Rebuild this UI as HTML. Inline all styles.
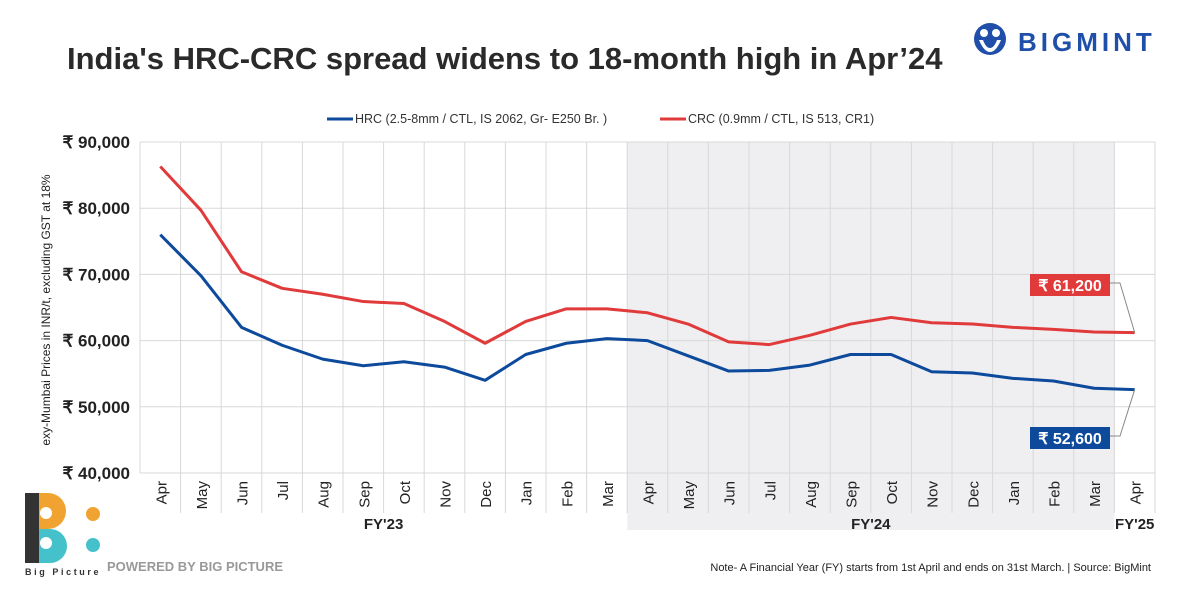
<!DOCTYPE html>
<html><head><meta charset="utf-8"><style>
body{margin:0;width:1200px;height:600px;background:#fff;overflow:hidden;font-family:"Liberation Sans",sans-serif}
svg{display:block}
</style></head><body>
<svg id="c" width="1200" height="600" xmlns="http://www.w3.org/2000/svg">
<text x="67" y="69" font-size="31" font-weight="bold" fill="#2a2a2a">India's HRC-CRC spread widens to 18-month high in Apr’24</text>
<g>
<circle cx="990" cy="39" r="16" fill="#1f4fa8"/>
<circle cx="984" cy="33" r="4" fill="#fff"/><circle cx="996" cy="33" r="4" fill="#fff"/>
<path d="M979 40 Q984 52 990 52 Q996 52 1001 40 L997 40 Q994 48 990 48 Q986 48 983 40Z" fill="#fff"/>
<text x="1018" y="51" font-size="26" font-weight="bold" fill="#1f4fa8" letter-spacing="4">BIGMINT</text>
</g>
<g>
<rect x="25" y="493" width="14" height="70" fill="#333"/>
<path d="M39 493 L48 493 A18 18 0 0 1 48 529 L39 529Z" fill="#f0a330"/>
<path d="M39 529 L50 529 A17 17 0 0 1 50 563 L39 563Z" fill="#45c1cc"/>
<circle cx="46" cy="513" r="6" fill="#fff"/><circle cx="46" cy="543" r="6" fill="#fff"/>
<circle cx="93" cy="514" r="7" fill="#f0a330"/><circle cx="93" cy="545" r="7" fill="#45c1cc"/>
<text x="25" y="575" font-size="9" font-weight="bold" fill="#333" letter-spacing="2.6">Big Picture</text>
</g>
<text x="107" y="571" font-size="13" font-weight="bold" fill="#999">POWERED BY BIG PICTURE</text>
<text x="1151" y="571" font-size="11" fill="#222" text-anchor="end">Note- A Financial Year (FY) starts from 1st April and ends on 31st March. | Source: BigMint</text>
<text transform="translate(50,310) rotate(-90)" font-size="12" fill="#222" text-anchor="middle">exy-Mumbai Prices in INR/t, excluding GST at 18%</text>
<g>
<line x1="327" y1="119" x2="353" y2="119" stroke="#0d4a9c" stroke-width="3"/>
<text x="355" y="123" font-size="12.5" fill="#333">HRC (2.5-8mm / CTL, IS 2062, Gr- E250 Br. )</text>
<line x1="660" y1="119" x2="686" y2="119" stroke="#e03a3a" stroke-width="3"/>
<text x="688" y="123" font-size="12.5" fill="#333">CRC (0.9mm / CTL, IS 513, CR1)</text>
</g>
<g id="g"></g>
</svg>
<script>
const months=["Apr","May","Jun","Jul","Aug","Sep","Oct","Nov","Dec","Jan","Feb","Mar","Apr","May","Jun","Jul","Aug","Sep","Oct","Nov","Dec","Jan","Feb","Mar","Apr"];
const hrc=[76000,69800,62000,59300,57200,56200,56800,56000,54000,57900,59600,60300,60000,57700,55400,55500,56300,57900,57900,55300,55100,54300,53900,52800,52600];
const crc=[86300,79700,70400,67900,67000,65900,65600,62900,59600,62900,64800,64800,64200,62500,59800,59400,60800,62500,63500,62700,62500,62000,61700,61300,61200];
const yTicks=[40000,50000,60000,70000,80000,90000];
const fyLabels=["FY'23","FY'24","FY'25"];
const L=140,R=1155,T=142,B=473,bw=(R-L)/months.length;
const x=i=>L+bw*(i+0.5), y=v=>B-(v-40000)/50000*(B-T);
const g=document.getElementById('g'),NS="http://www.w3.org/2000/svg";
function mk(t,a,p){const e=document.createElementNS(NS,t);for(const k in a)e.setAttribute(k,a[k]);(p||g).appendChild(e);return e;}
let sh=mk('rect',{x:L+bw*12,y:T,width:bw*12,height:530-T,fill:'#efeff1'});


yTicks.forEach(v=>{mk('line',{x1:L,x2:R,y1:y(v),y2:y(v),stroke:'#d8d8d8'});
 let t=mk('text',{x:L-10,y:y(v)+6,'font-size':17,'font-weight':'bold',fill:'#222','text-anchor':'end'});t.textContent='₹ '+v.toLocaleString('en-US');
 
 });
for(let i=0;i<=months.length;i++)mk('line',{x1:L+bw*i,x2:L+bw*i,y1:T,y2:i==0?B:B+40,stroke:'#d8d8d8'});
months.forEach((m,i)=>{let t=mk('text',{transform:`translate(${x(i)+6},${B+8}) rotate(-90)`,'font-size':15,fill:'#222','text-anchor':'end'});t.textContent=m;
 
 });
[[5.5,0],[17.5,1],[24,2]].forEach(([p,k])=>{let t=mk('text',{x:x(p),y:529,'font-size':15,'font-weight':'bold',fill:'#222','text-anchor':'middle'});t.textContent=fyLabels[k];
 
 });
function line(d,c,n){let p=mk('polyline',{points:d.map((v,i)=>x(i)+','+y(v)).join(' '),fill:'none',stroke:c,'stroke-width':3,'stroke-linejoin':'round'});
 
 }
line(crc,'#e03a3a','crc-line');line(hrc,'#0d4a9c','hrc-line');
function callout(v,c,bx,by,n){const li=v.length-1,val=v[li];
 mk('polyline',{points:`${bx+80},${by+9} ${bx+90},${by+9} ${x(li)},${y(val)}`,fill:'none',stroke:'#888','stroke-width':1});
 let r=mk('rect',{x:bx,y:by,width:80,height:22,fill:c});
 
 
 let t=mk('text',{x:bx+40,y:by+17,'font-size':16,'font-weight':'bold',fill:'#fff','text-anchor':'middle'});t.textContent='₹ '+val.toLocaleString('en-US');}
callout(crc,'#e03a3a',1030,274,'crc-callout');callout(hrc,'#0d4a9c',1030,427,'hrc-callout');
</script>
</body></html>
